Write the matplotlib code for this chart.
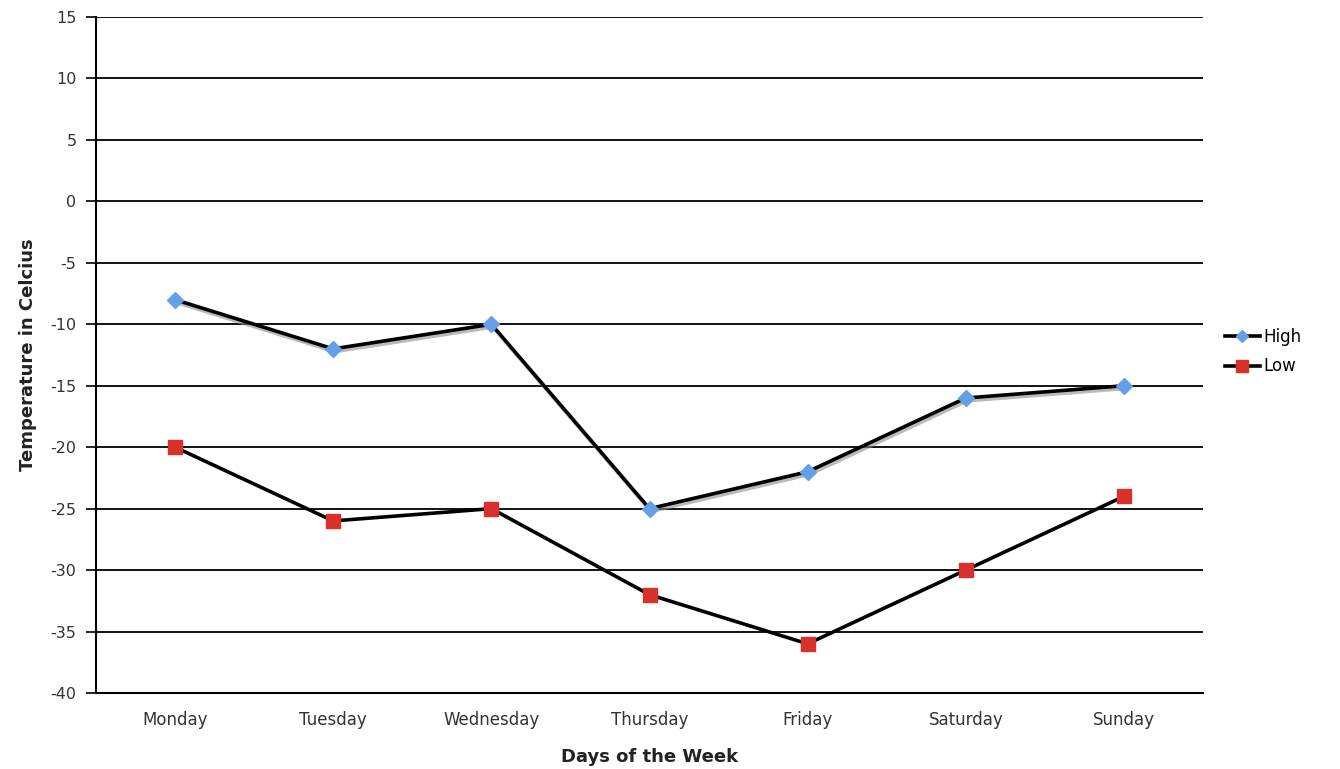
import matplotlib
matplotlib.use("Agg")
import matplotlib.pyplot as plt
import matplotlib.patheffects as pe
from matplotlib.lines import Line2D

days = ["Monday", "Tuesday", "Wednesday", "Thursday", "Friday", "Saturday", "Sunday"]
high = [-8, -12, -10, -25, -22, -16, -15]
low = [-20, -26, -25, -32, -36, -30, -24]
yticks = [15, 10, 5, 0, -5, -10, -15, -20, -25, -30, -35, -40]

plt.rcParams['font.family'] = ['DejaVu Sans']
fig = plt.figure(figsize=(13.4, 7.69), dpi=100)
ax = fig.add_axes([96/1340, 1-693/769, (1203-96)/1340, (693-17)/769])

x = list(range(len(days)))
blue = '#64a0ea'
red = '#d8312c'
shadow = [pe.SimpleLineShadow(offset=(1.0, -2.0), shadow_color='#8c8c8c', alpha=0.6), pe.Normal()]
ax.plot(x, high, color='black', lw=2.6, zorder=3, path_effects=shadow, solid_capstyle='round')
ax.plot(x, high, linestyle='none', marker='D', markersize=8.5, markerfacecolor=blue,
        markeredgecolor=blue, zorder=5)
ax.plot(x, low, color='black', lw=2.6, zorder=3)
ax.plot(x, low, linestyle='none', marker='s', markersize=9.5, markerfacecolor=red,
        markeredgecolor=red, zorder=5)

ax.set_xlim(-0.5, 6.5)
ax.set_ylim(-40, 15)
ax.set_yticks(yticks)
ax.set_yticklabels([str(v) for v in yticks], fontsize=11.5, color='#333333')
ax.set_xticks(x)
ax.set_xticklabels(days, fontsize=12, color='#333333')
ax.tick_params(axis='x', length=0, pad=13)
ax.tick_params(axis='y', length=7, width=1.2, pad=7, direction='out')
for v in yticks:
    ax.axhline(v, color='black', lw=1.3, zorder=1)
for s in ['top', 'right']:
    ax.spines[s].set_visible(False)
ax.spines['left'].set_linewidth(1.5)
ax.spines['bottom'].set_linewidth(1.5)

ax.set_xlabel("Days of the Week", fontsize=13, fontweight='bold', labelpad=14, color='#222222')
ax.set_ylabel("Temperature in Celcius", fontsize=13, fontweight='bold', labelpad=10, color='#222222')

handles = [
    Line2D([0], [0], color='black', lw=2.6, marker='D', markersize=6.5, markerfacecolor=blue, markeredgecolor=blue),
    Line2D([0], [0], color='black', lw=2.6, marker='s', markersize=8, markerfacecolor=red, markeredgecolor=red),
]
leg = ax.legend(handles, ['High', 'Low'], loc='center left', bbox_to_anchor=(1.006, 0.505), frameon=False,
                fontsize=12, handlelength=2.1, handletextpad=0.25, labelspacing=0.7)

fig.savefig("out.png", dpi=100)
